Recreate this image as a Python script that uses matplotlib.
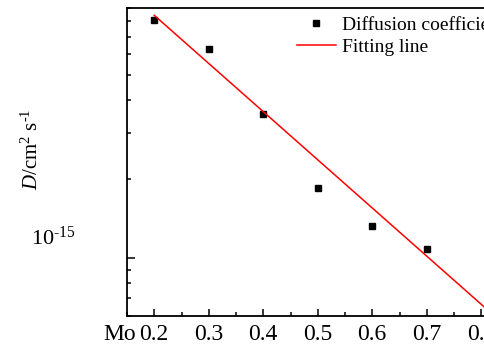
import numpy as np
import matplotlib
matplotlib.use("Agg")
import matplotlib.pyplot as plt
import matplotlib.transforms as mtransforms
from matplotlib.ticker import LogLocator, NullFormatter, MultipleLocator, FixedLocator

plt.rcParams['font.family'] = ['Liberation Serif', 'DejaVu Serif']
plt.rcParams['mathtext.fontset'] = 'custom'
plt.rcParams['mathtext.rm'] = 'Liberation Serif'
plt.rcParams['mathtext.it'] = 'Liberation Serif:italic'
plt.rcParams['axes.unicode_minus'] = False

# data
mo_content = [0.2, 0.3, 0.4, 0.5, 0.6, 0.7]
diff_coef = [8.1e-15, 6.3e-15, 3.55e-15, 1.85e-15, 1.32e-15, 1.08e-15]
# fitted line end points
fit_x = [0.2, 0.85]
fit_y = [8.44e-15, 5.38e-16]
y_ticks = [1e-15]
y_ticklabels = [r'10$^{\text{-}15}$']

fig = plt.figure(figsize=(4.84, 3.47), dpi=100)
ax = fig.add_axes([127/484, 31/347, 381.5/484, 308/347])

ax.plot(mo_content, diff_coef, 's', color='black', markersize=5, label='Diffusion coefficient')
ax.plot(fit_x, fit_y, '-', color='red', lw=1.1, label='Fitting line')

ax.set_yscale('log')
ax.set_xlim(0.15, 0.85)
ax.set_ylim(6e-16, 9e-15)

ax.xaxis.set_major_locator(MultipleLocator(0.1))
ax.xaxis.set_minor_locator(MultipleLocator(0.05))
ax.yaxis.set_major_locator(FixedLocator(y_ticks))
ax.set_yticklabels(y_ticklabels)
ax.yaxis.set_minor_locator(LogLocator(base=10, subs=np.arange(2, 10)))
ax.yaxis.set_minor_formatter(NullFormatter())

ax.tick_params(axis='x', which='major', direction='in', length=5, width=1.1, labelsize=17, pad=6)
ax.tick_params(axis='x', which='minor', direction='in', length=3, width=1.1)
ax.tick_params(axis='y', which='major', direction='in', length=6, width=1.1, labelsize=16, pad=37)
ax.tick_params(axis='y', which='minor', direction='in', length=3, width=1.1)
for sp in ax.spines.values():
    sp.set_linewidth(1.3)

# the 10^-15 label sits a bit above its tick in the original
offset = mtransforms.ScaledTranslation(0, 22/100, fig.dpi_scale_trans)
for lab in ax.get_yticklabels():
    lab.set_transform(lab.get_transform() + offset)

ax.set_ylabel(r'$\it{D}$/cm$^2$ s$^{\text{-}1}$', fontsize=15)
ax.yaxis.set_label_coords(-0.222, 0.54)

fig.text(120/484, 1 - 335/347, 'Mo', fontsize=17, ha='center', va='center')

ax.legend(loc='upper left', bbox_to_anchor=(297/484, 1 - 16/347), bbox_transform=fig.transFigure,
          frameon=False, fontsize=14, handlelength=2, handletextpad=0.3, borderpad=0,
          borderaxespad=0, labelspacing=0.25)

fig.savefig('out.png', dpi=100)
